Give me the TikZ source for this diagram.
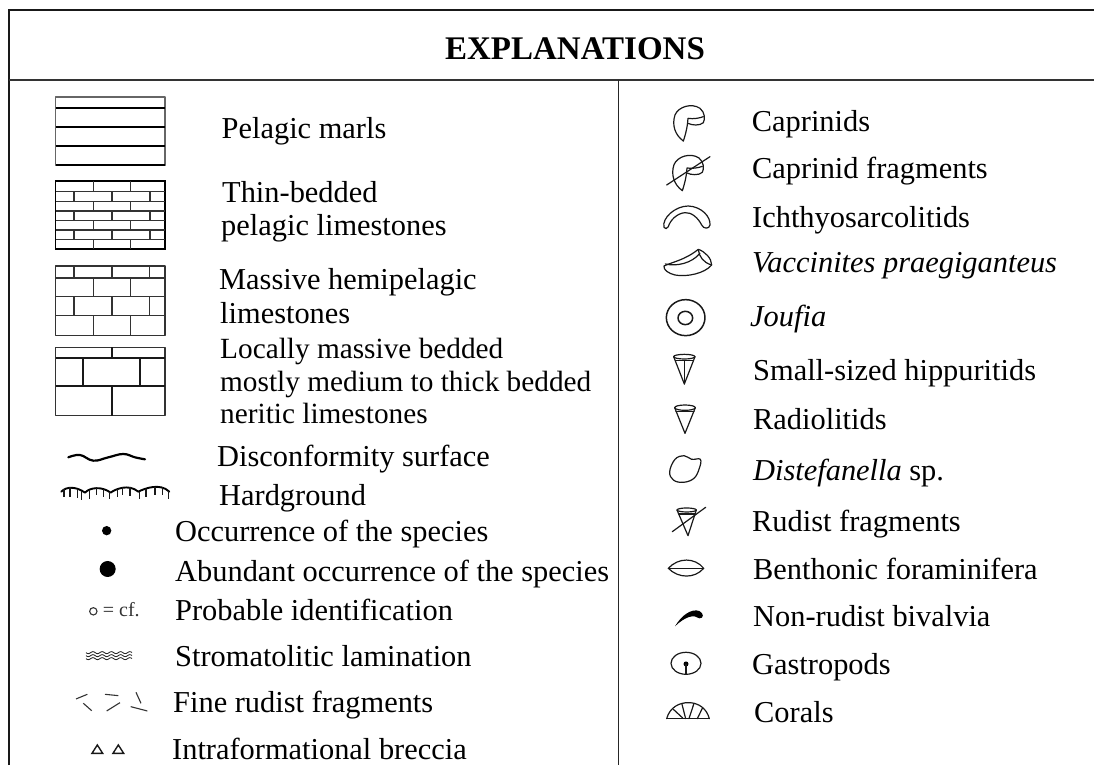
\documentclass[tikz,border=0pt]{standalone}
\usepackage{fontspec}
\setmainfont{Liberation Serif}
\begin{document}
\begin{tikzpicture}[x=1pt,y=-1pt,
  frameline/.style={line width=2.4pt,black!90},
  ruleline/.style={line width=1.7pt,black!80},
  thinline/.style={line width=1.25pt,black!80,line join=round},
  midline/.style={line width=1.6pt,black!90},
  heavyline/.style={line width=1.9pt,black},
  fossil/.style={line width=1.2pt,black!90,line join=round,line cap=round},
  lab/.style={anchor=base west,inner sep=0pt,font=\fontsize{30.4}{34}\selectfont},
  labs/.style={anchor=base west,inner sep=0pt,font=\fontsize{29.3}{34}\selectfont},
  title/.style={anchor=base,inner sep=0pt,font=\fontsize{33}{38}\selectfont\bfseries}]
\useasboundingbox (0,0) rectangle (1094,765);
\fill[white] (0,0) rectangle (1094,765);
% frame
\draw[frameline] (9,765) -- (9,10) -- (1094,10);
\draw[ruleline] (9,80) -- (1094,80);
\draw[line width=1.3pt,black!85] (618.3,80) -- (618.3,765);
\node[title] (head) at (575,60) {EXPLANATIONS};
% pattern 1
\draw[thinline,black!60] (55.5,97) rectangle (165,165.5);
\foreach \y in {108,127,146,165} \draw[heavyline] (55.5,\y) -- (165,\y);
% pattern 2
\draw[heavyline] (55.5,180.7) rectangle (165,249.3);
\foreach \y in {191.7,201.7,211,220.7,230,239.3} \draw[thinline] (55.5,\y) -- (165,\y);
\foreach \a/\b in {180.7/191.7,201.7/211,220.7/230,239.3/249.3} \foreach \x in {93.3,130.7} \draw[thinline] (\x,\a) -- (\x,\b);
\foreach \a/\b in {191.7/201.7,211/220.7,230/239.3} \foreach \x in {74,112,150} \draw[thinline] (\x,\a) -- (\x,\b);
% pattern 3
\draw[thinline] (55.5,266) rectangle (165,335.3);
\foreach \y in {278,296.7,315.7} \draw[thinline] (55.5,\y) -- (165,\y);
\foreach \a/\b in {266/278,296.7/315.7} \foreach \x in {74,112,149.5} \draw[thinline] (\x,\a) -- (\x,\b);
\foreach \a/\b in {278/296.7,315.7/335.3} \foreach \x in {93.3,130.7} \draw[thinline] (\x,\a) -- (\x,\b);
% pattern 4
\draw[thinline] (55.5,347.3) rectangle (165,415.7);
\foreach \y in {358,386} \draw[midline] (55.5,\y) -- (165,\y);
\foreach \a/\b in {347.3/358,386/415.7} \draw[midline] (111.7,\a) -- (111.7,\b);
\foreach \x in {82.7,140} \draw[midline] (\x,358) -- (\x,386);
% symbols, left column: reference crop coordinates
\begin{scope}[shift={(40,400)},x=0.3333pt,y=-0.3333pt]
  % disconformity
  \draw[line width=2.2pt,line cap=round] plot[smooth,tension=.7] coordinates {(85,172) (120,165) (160,182) (205,172) (250,162) (285,172) (315,178)};
  % hardground
  \draw[line width=1.9pt,line cap=round,line join=round] (64,275) .. controls (80,258) and (110,260) .. (135,278)
     .. controls (150,262) and (185,258) .. (212,278)
     .. controls (225,268) and (265,250) .. (295,275)
     .. controls (315,265) and (360,248) .. (388,275);
  \foreach \x/\a/\b in {72/268/290,90/262/292,112/266/294,125/273/300,148/270/296,170/262/284,190/266/292,208/276/296,232/267/290,248/260/286,270/262/288,298/275/296,318/266/292,345/260/284,368/262/286,385/272/296}
    \draw[line width=1.1pt,black!90] (\x,\a) -- (\x,\b);
  % dots
  \fill[black] (200,392) circle[radius=14];
  \fill[black] (203,507) circle[radius=24];
  % cf
  \draw[line width=1.1pt,black!80] (160,634) circle[radius=11];
  \node[anchor=base west,inner sep=0pt,font=\fontsize{20}{22}\selectfont,black!80] (cf) at (188,650) {= cf.};
  % stromatolitic
  \foreach \d in {0,9,18} \draw[line width=.85pt,black!85] plot[smooth,samples=41,domain=0:138] ({138+\x},{758+\d+3*sin(\x*13)});
  % fragments
  \foreach \a/\b/\c/\d in {108/897/142/883, 130/910/155/932, 195/883/235/887, 200/933/240/908, 288/877/303/910, 272/920/322/933}
    \draw[line width=1.1pt,black!80] (\a,\b) -- (\c,\d);
  % triangles
  \foreach \x in {172,235} \draw[line width=1.4pt,black!90,line join=miter] (\x-16,1060) -- (\x,1035) -- (\x+16,1060) -- cycle;
\end{scope}
% ---- left labels
\node[lab] (l1) at (221.5,138.3) {Pelagic marls};
\node[lab] (l2a) at (222,202.3) {Thin-bedded};
\node[lab] (l2b) at (221,235.7) {pelagic limestones};
\node[lab] (l3a) at (219,289.3) {Massive hemipelagic};
\node[lab] (l3b) at (220,323.3) {limestones};
\node[labs] (l4a) at (220,358.3) {Locally massive bedded};
\node[labs] (l4b) at (220,391) {mostly medium to thick bedded};
\node[labs] (l4c) at (220,423) {neritic limestones};
\node[lab] (l5) at (217,466) {Disconformity surface};
\node[lab] (l6) at (219,505) {Hardground};
\node[lab] (l7) at (175,541) {Occurrence of the species};
\node[lab] (l8) at (175,581) {Abundant occurrence of the species};
\node[lab] (l9) at (175,620.7) {Probable identification};
\node[lab] (l10) at (175,666) {Stromatolitic lamination};
\node[lab] (l11) at (173,712.7) {Fine rudist fragments};
\node[lab] (l12) at (172,759) {Intraformational breccia};
% ---- right labels
\node[lab] (r1) at (751.7,131.7) {Caprinids};
\node[lab] (r2) at (752,178.3) {Caprinid fragments};
\node[lab] (r3) at (752,227.3) {Ichthyosarcolitids};
\node[lab] (r4) at (752,272.7) {\itshape Vaccinites praegiganteus};
\node[lab] (r5) at (750,326) {\itshape Joufia};
\node[lab] (r6) at (753,380.7) {Small-sized hippuritids};
\node[lab] (r7) at (753,429) {Radiolitids};
\node[lab] (r8) at (753,480) {{\itshape Distefanella} sp.};
\node[lab] (r9) at (752,531) {Rudist fragments};
\node[lab] (r10) at (753,579) {Benthonic foraminifera};
\node[lab] (r11) at (753,626.7) {Non-rudist bivalvia};
\node[lab] (r12) at (752,674.3) {Gastropods};
\node[lab] (r13) at (754,722) {Corals};
% symbols, right column, upper crop
\begin{scope}[shift={(620,90)},x=0.3333pt,y=-0.3333pt]
  \foreach \dx/\dy in {0/0,-3/149} {
    \begin{scope}[xshift=\dx*0.3333pt,yshift=-\dy*0.3333pt]
    \draw[fossil] (190,153) .. controls (165,135) and (155,105) .. (165,75)
       .. controls (175,50) and (215,38) .. (240,55)
       .. controls (256,68) and (255,88) .. (250,98)
       .. controls (240,108) and (215,106) .. (204,100);
    \draw[fossil] (190,153) .. controls (198,130) and (203,105) .. (204,85)
       .. controls (220,88) and (240,84) .. (250,80);
    \end{scope}
  }
  \draw[fossil] (140,285) -- (270,200);
  % ichthyosarcolitid
  \draw[fossil] (132,412) .. controls (125,385) and (165,348) .. (205,348)
     .. controls (245,350) and (272,380) .. (270,405)
     .. controls (268,418) and (250,417) .. (245,405)
     .. controls (235,385) and (215,366) .. (195,368)
     .. controls (170,370) and (150,392) .. (145,410)
     .. controls (142,418) and (134,417) .. (132,412);
  % vaccinites
  \draw[fossil] (132,528) .. controls (160,515) and (195,510) .. (235,478)
     .. controls (255,485) and (275,505) .. (275,525)
     .. controls (255,550) and (200,562) .. (165,555)
     .. controls (145,550) and (130,540) .. (132,528);
  \draw[fossil] (136,522) .. controls (170,530) and (215,520) .. (240,490);
  \draw[fossil] (235,480) .. controls (238,500) and (250,518) .. (275,525);
  % joufia
  \draw[fossil,line width=1.5pt] (197,683) ellipse[x radius=58,y radius=54];
  \draw[fossil,line width=1.5pt] (196,684) ellipse[x radius=22,y radius=20];
\end{scope}
% symbols, right column, lower crop
\begin{scope}[shift={(620,340)},x=0.3333pt,y=-0.3333pt]
  % hippuritid
  \draw[fossil] (193,50) ellipse[x radius=32,y radius=7];
  \draw[fossil] (161,50) -- (193,132) -- (225,50);
  \draw[fossil] (166,62) -- (220,62);
  \draw[fossil] (193,62) -- (193,132);
  % radiolitid
  \draw[fossil] (195,203) ellipse[x radius=31,y radius=8];
  \draw[fossil] (164,203) -- (195,280) -- (226,203);
  \draw[fossil] (168,215) -- (222,215);
  % distefanella
  \draw[fossil] plot[smooth cycle,tension=.65] coordinates {(149,395) (165,358) (192,347) (215,358) (241,358) (238,385) (222,415) (190,427) (160,420)};
  % rudist fragment
  \draw[fossil] (200,510) ellipse[x radius=29,y radius=6];
  \draw[fossil] (171,510) -- (204,587) -- (229,510);
  \draw[fossil] (176,522) -- (225,522);
  \draw[fossil] (157,575) -- (257,502);
  % benthonic
  \draw[fossil] (145,685) .. controls (175,652) and (225,652) .. (251,685) .. controls (225,716) and (175,716) .. (145,685) -- cycle;
  \draw[fossil] (145,685) -- (251,685);
  % non-rudist
  \fill[black] (165,859) .. controls (185,825) and (215,805) .. (238,813)
     .. controls (252,820) and (252,836) .. (238,835)
     .. controls (222,822) and (195,830) .. (165,859) -- cycle;
  % gastropod
  \draw[fossil] (198,970) ellipse[x radius=45,y radius=33];
  \fill[black] (198,972) circle[radius=7.5];
  \draw[fossil] (198,972) -- (198,1003);
  % coral
  \draw[fossil] (140,1136) -- (268,1136);
  \draw[fossil] (140,1136) .. controls (150,1100) and (180,1088) .. (205,1088) .. controls (235,1088) and (260,1105) .. (268,1136);
  \foreach \a/\b/\c/\d in {160/1108/188/1134, 186/1093/197/1136, 222/1090/207/1136, 248/1103/232/1136}
    \draw[fossil] (\a,\b) -- (\c,\d);
\end{scope}
\end{tikzpicture}
\end{document}
